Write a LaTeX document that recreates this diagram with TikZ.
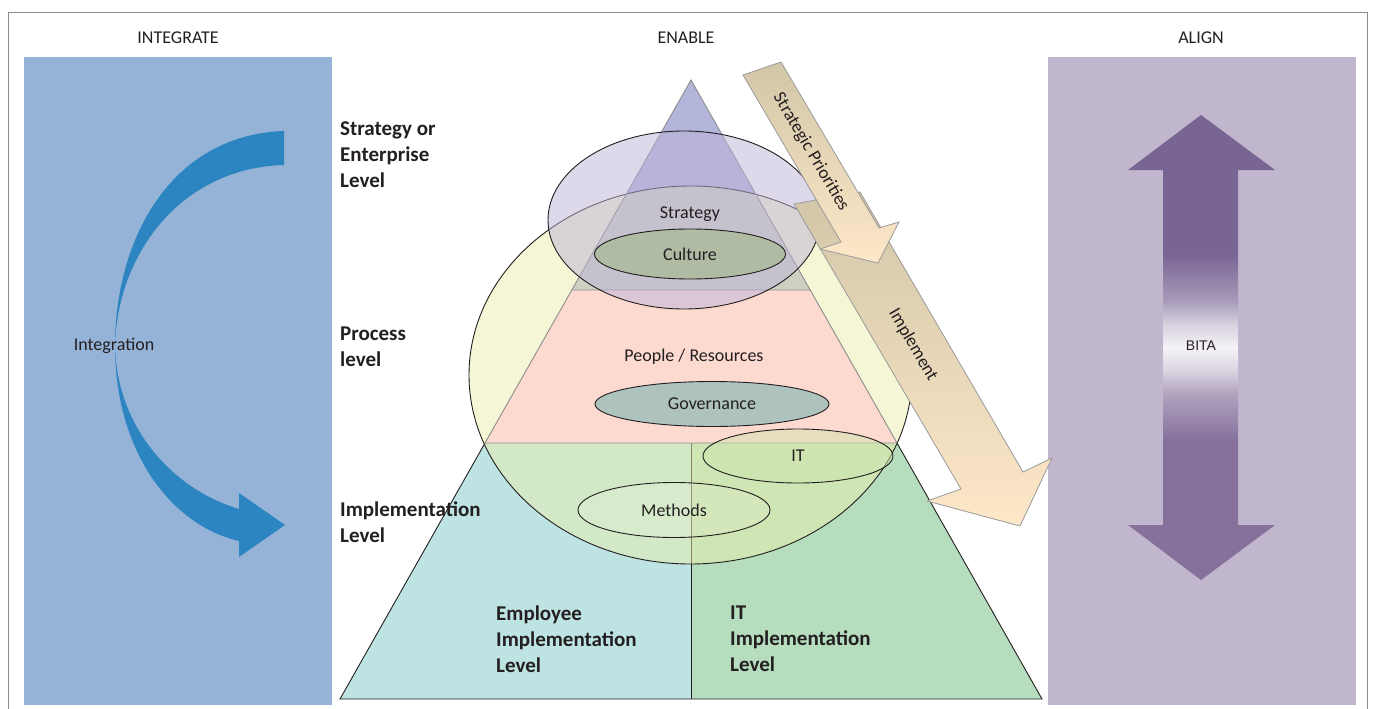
\documentclass[tikz,border=0pt]{standalone}
\usepackage{fontspec}
\setmainfont{Carlito}
\newfontfamily\bitafont{Liberation Sans}
\usetikzlibrary{shapes.geometric}
\definecolor{txt}{HTML}{231F20}
\definecolor{frameline}{HTML}{8C8C8C}
\definecolor{panelblue}{HTML}{95B3D7}
\definecolor{curveblue}{HTML}{2C85C1}
\definecolor{panelpurple}{HTML}{C0B6CE}
\definecolor{bitatop}{HTML}{796594}
\definecolor{bitalow}{HTML}{85719C}
\definecolor{beigedark}{HTML}{D2C6A8}
\definecolor{beigelight}{HTML}{FDE8C8}
\definecolor{arrline}{HTML}{9A9A9A}
\definecolor{empteal}{HTML}{BDE3E2}
\definecolor{itgreen}{HTML}{B5DDBE}
\definecolor{toptri}{HTML}{B3B5DA}
\definecolor{pinkband}{HTML}{FCDAD0}
\definecolor{bigoval}{HTML}{E9EEAB}
\definecolor{smalloval}{HTML}{BDB2D8}
\definecolor{culturefill}{HTML}{B0BBA3}
\definecolor{govfill}{HTML}{AEC2BE}
\definecolor{itfill}{HTML}{CFE5B0}
\pgfdeclareverticalshading{bitashade}{100bp}{color(0bp)=(bitalow); color(25bp)=(bitalow); color(40bp)=(bitalow); color(45bp)=(bitalow!65!white); color(47.5bp)=(bitalow!30!white); color(50bp)=(bitatop!8!white); color(52.5bp)=(bitatop!30!white); color(55bp)=(bitatop!65!white); color(60bp)=(bitatop); color(75bp)=(bitatop); color(100bp)=(bitatop)}

\begin{document}
\begin{tikzpicture}[x=1pt,y=-1pt,
  lbl/.style={font=\fontsize{18}{22}\selectfont, text=txt, inner sep=0},
  lvl/.style={font=\bfseries\fontsize{21}{26}\selectfont, text=txt, align=left, anchor=west, inner sep=0},
  oval/.style={ellipse, draw=txt, line width=0.9pt, inner sep=0, font=\fontsize{18}{22}\selectfont, text=txt, text opacity=1},
  bigarrow/.style={top color=beigedark, bottom color=beigelight, draw=arrline, line width=0.8pt}]
\useasboundingbox (0,0) rectangle (1373,709);
\draw[frameline, line width=0.8pt] (8,715) -- (8,12) -- (1367,12) -- (1367,715);

% side panels
\fill[panelblue] (24,57) rectangle (332,705);
\fill[panelpurple] (1048,57) rectangle (1356,705);
\node[lbl] (integrate) at (178,38) {INTEGRATE};
\node[lbl] (enable) at (686,38) {ENABLE};
\node[lbl] (align) at (1201,38) {ALIGN};

% integration arrow
\fill[curveblue] (284,131) .. controls (170,135) and (115,240) .. (115,346)
  .. controls (115,450) and (170,525) .. (239,541) -- (239,557) -- (285,525) -- (239,493) -- (239,509)
  .. controls (175,490) and (117,430) .. (115,346)
  .. controls (117,255) and (180,168) .. (284,165) -- cycle;
\node[lbl] (integration) at (114,346) {Integration};

% BITA arrow
\shade[shading=bitashade] (1201,115) -- (1275,170) -- (1238,170) -- (1238,525) -- (1275,525) -- (1201,580)
  -- (1128,525) -- (1163,525) -- (1163,170) -- (1128,170) -- cycle;
\node[lbl, font=\bitafont\fontsize{14}{16}\selectfont] (bita) at (1201,346) {BITA};

% pyramid
\coordinate (apex) at (691,80);
\coordinate (bl) at (340,699);
\coordinate (br) at (1042,699);
\coordinate (bm) at (691,699);
\coordinate (ml) at (485,443);
\coordinate (mm) at (691,443);
\coordinate (mr) at (897,443);
\coordinate (tl) at (572,290);
\coordinate (tr) at (810,290);
\fill[empteal] (ml) -- (mm) -- (bm) -- (bl) -- cycle;
\fill[itgreen] (mm) -- (mr) -- (br) -- (bm) -- cycle;
\draw[txt, line width=0.9pt] (ml) -- (bl) -- (br) -- (mr);
\draw[txt, line width=0.9pt] (mm) -- (bm);
\fill[toptri] (apex) -- (tr) -- (tl) -- cycle;
\fill[bigoval, fill opacity=0.5] (690.5,375) ellipse [x radius=221.5, y radius=189];
\fill[pinkband] (tl) -- (tr) -- (mr) -- (ml) -- cycle;
\draw[txt, line width=0.9pt] (690.5,375) ellipse [x radius=221.5, y radius=189];
\draw[frameline, line width=0.9pt] (ml) -- (apex) -- (mr) (tl) -- (tr) (ml) -- (mr);
\fill[smalloval, fill opacity=0.5] (684,220) ellipse [x radius=136, y radius=89];
\draw[txt, line width=0.9pt] (684,220) ellipse [x radius=136, y radius=89];

\node[lbl] (strategy) at (690,214) {Strategy};
\node[oval, fill=culturefill, minimum width=191, minimum height=50] (culture) at (690,254) {Culture};
\node[lbl] (people) at (694,357) {People / Resources};
\node[oval, fill=govfill, minimum width=234, minimum height=45] (governance) at (712,404) {Governance};
\node[oval, fill=itfill, fill opacity=0.5, minimum width=190, minimum height=54] (it) at (798,456) {IT};
\node[oval, fill=white, fill opacity=0.1, minimum width=192, minimum height=55] (methods) at (674,510) {Methods};

% level labels
\node[lvl] (lvlstrat) at (340,155) {Strategy or\\Enterprise\\Level};
\node[lvl] (lvlproc) at (340,347) {Process\\level};
\node[lvl] (lvlimpl) at (340,522) {Implementation\\Level};
\node[lvl] (lvlemp) at (496,639) {Employee\\Implementation\\Level};
\node[lvl] (lvlit) at (730,639) {IT\\Implementation\\Level};

% slanted arrows
\shadedraw[bigarrow] (794,204) -- (860,192) -- (1023,472) -- (1052,458) -- (1020,526) -- (927,501) -- (961,489) -- cycle;
\node[lbl, rotate=-59.6] (implement) at (913,345) {Implement};
\shadedraw[bigarrow] (743,75) -- (781,62) -- (879,228) -- (899,222) -- (878,263) -- (820,249) -- (841,242) -- cycle;
\node[lbl, rotate=-59.6] (priorities) at (811,152) {Strategic Priorities};
\end{tikzpicture}
\end{document}
